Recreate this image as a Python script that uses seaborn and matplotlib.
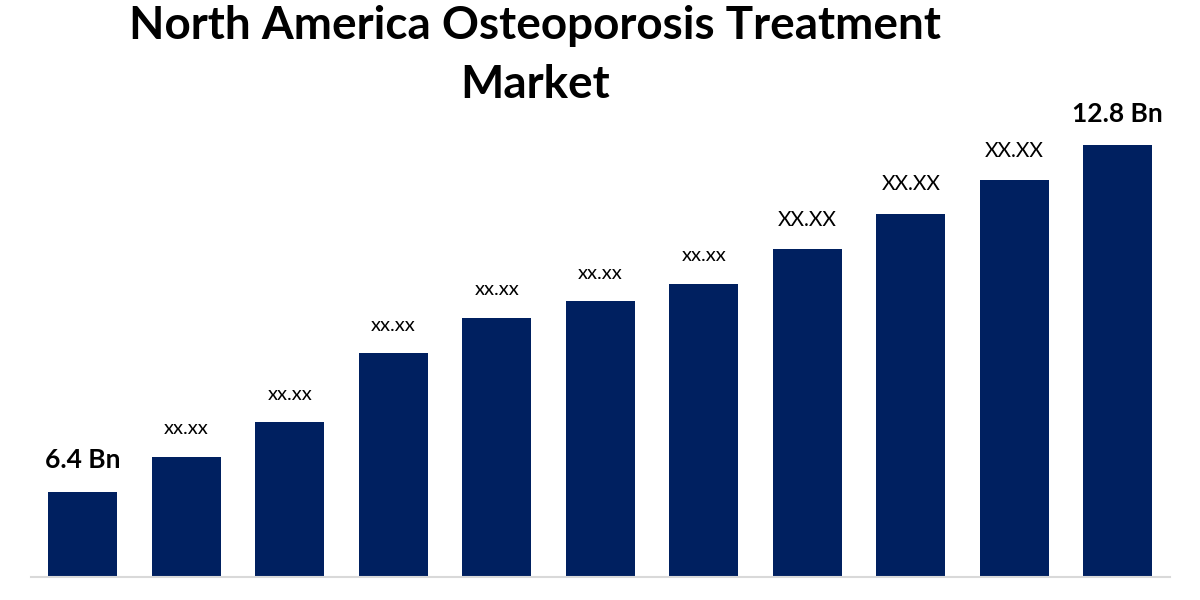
import pandas as pd
import matplotlib.pyplot as plt
import seaborn as sns

# bar values (axis does not start at zero)
years = ["2023", "2024", "2025", "2026", "2027", "2028", "2029", "2030", "2031", "2032", "2033"]
market_size = [6.4, 7.05, 7.69, 8.96, 9.61, 9.92, 10.24, 10.88, 11.53, 12.15, 12.8]
bar_labels = ["6.4 Bn", "xx.xx", "xx.xx", "xx.xx", "xx.xx", "xx.xx", "xx.xx",
              "XX.XX", "XX.XX", "XX.XX", "12.8 Bn"]

df = pd.DataFrame({"year": years, "size": market_size})

sns.set_style("white")
plt.rcParams["font.family"] = ["Lato", "DejaVu Sans"]
plt.rcParams["text.color"] = "black"

fig = plt.figure(figsize=(12, 6), dpi=100)
ax = fig.add_axes([31 / 1200, 23 / 600, 1138.5 / 1200, 477 / 600])

sns.barplot(data=df, x="year", y="size", color="#002060", saturation=1,
            width=0.667, linewidth=0, ax=ax)

ax.set_xlim(-0.5, 10.5)
ax.set_ylim(4.83, 13.63)

# labels above each bar
for i, (val, lab) in enumerate(zip(market_size, bar_labels)):
    if "Bn" in lab:
        ax.annotate(lab, (i, val), xytext=(0, 14), textcoords="offset points",
                    ha="center", va="bottom", fontsize=19, fontweight="bold", color="black")
    elif lab.isupper():
        ax.annotate(lab, (i, val), xytext=(0, 14), textcoords="offset points",
                    ha="center", va="bottom", fontsize=15, color="black")
    else:
        ax.annotate(lab, (i, val), xytext=(0, 14), textcoords="offset points",
                    ha="center", va="bottom", fontsize=14.5, color="black")

# only a light baseline is visible
for side in ["top", "right", "left"]:
    ax.spines[side].set_visible(False)
ax.spines["bottom"].set_color("#d9d9d9")
ax.spines["bottom"].set_linewidth(1.5)
ax.set_xticks([])
ax.set_yticks([])
ax.set_xlabel("")
ax.set_ylabel("")

fig.text(535 / 1200, 1 - 5 / 600, "North America Osteoporosis Treatment\nMarket",
         ha="center", va="top", fontsize=33, fontweight="bold", linespacing=1.5,
         color="black")

fig.savefig("out.png", dpi=100)
